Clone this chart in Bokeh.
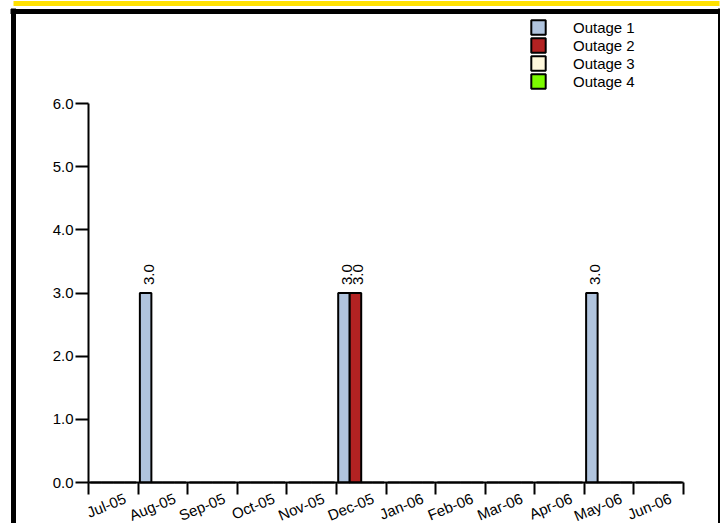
import math
import numpy as np
from bokeh.plotting import figure
from bokeh.models import (Range1d, LinearAxis, FixedTicker, PrintfTickFormatter,
                          Legend, LegendItem, LabelSet, ColumnDataSource)
from bokeh.core.properties import value
from bokeh.embed import file_html
from bokeh.resources import INLINE

months = ["Jul-05", "Aug-05", "Sep-05", "Oct-05", "Nov-05", "Dec-05",
          "Jan-06", "Feb-06", "Mar-06", "Apr-06", "May-06", "Jun-06"]
series_names = ["Outage 1", "Outage 2", "Outage 3", "Outage 4"]
outage1 = [0, 3, 0, 0, 0, 3, 0, 0, 0, 0, 3, 0]
outage2 = [0, 0, 0, 0, 0, 3, 0, 0, 0, 0, 0, 0]
outage3 = [0, 0, 0, 0, 0, 0, 0, 0, 0, 0, 0, 0]
outage4 = [0, 0, 0, 0, 0, 0, 0, 0, 0, 0, 0, 0]
colors = ["#B0C4DE", "#B22222", "#FFF8DC", "#7CFC00"]
y_ticks = [0, 1, 2, 3, 4, 5, 6]

FONT = "Liberation Sans"
W, H = 720, 523

# pixel layout: the frame is the whole canvas, the value axes sit inside it
AX_X0, AX_X1 = 88, 683      # x = 0 and x = 12
AX_Y0, AX_Y1 = 482, 103     # y = 0 and y = 6
NCAT = len(months)
YMAX = 6
ppx = (AX_X1 - AX_X0) / NCAT
ppy = (AX_Y0 - AX_Y1) / YMAX


def dx(px):
    return (px - AX_X0) / ppx


def dy(py):
    return (AX_Y0 - py) / ppy


p = figure(width=W, height=H, x_range=Range1d(dx(0), dx(W)), y_range=Range1d(dy(H), dy(0)),
           output_backend="svg", toolbar_location=None,
           x_axis_type=None, y_axis_type=None,
           min_border_left=0, min_border_right=0, min_border_top=0, min_border_bottom=0)
p.background_fill_color = "white"
p.border_fill_color = "white"
p.outline_line_color = None
p.xgrid.visible = False
p.ygrid.visible = False


def plain_axis(side, loc, bounds, color, width):
    ax = LinearAxis(ticker=FixedTicker(ticks=[]), fixed_location=loc, bounds=bounds)
    ax.axis_line_color = color
    ax.axis_line_width = width
    ax.axis_line_cap = "butt"
    ax.major_tick_line_color = None
    ax.minor_tick_line_color = None
    ax.major_label_text_font_size = "0px"
    p.add_layout(ax, side)


# outer box (left, right, top) and the yellow band above it
plain_axis("left", dx(12.5), (dy(H), dy(8)), "black", 5)
plain_axis("right", dx(719.5), (dy(H), dy(8)), "black", 5)
plain_axis("above", dy(10.5), (dx(10), dx(722)), "black", 5)
plain_axis("above", dy(2.5), (dx(13), dx(719)), "#FFE100", 5)

# y axis
yax = LinearAxis(ticker=FixedTicker(ticks=y_ticks), formatter=PrintfTickFormatter(format="%.1f"),
                 fixed_location=0, bounds=(0, YMAX))
yax.major_tick_out = 13
yax.major_tick_in = 0
yax.minor_tick_out = 0
yax.minor_tick_in = 0
yax.axis_line_width = 2
yax.major_tick_line_width = 2
yax.major_label_standoff = 2
yax.major_label_text_font = FONT
yax.major_label_text_font_size = "15px"
yax.major_label_text_color = "black"
p.add_layout(yax, "left")

# x axis: ticks at category boundaries
xt = LinearAxis(ticker=FixedTicker(ticks=list(range(NCAT + 1))), fixed_location=0, bounds=(0, NCAT))
xt.major_label_overrides = {i: "" for i in range(NCAT + 1)}
xt.major_label_text_font_size = "0px"
xt.major_label_standoff = 0
xt.major_tick_out = 12
xt.major_tick_in = 0
xt.axis_line_width = 2
xt.major_tick_line_width = 2
p.add_layout(xt, "below")

# x axis: month labels
label_pos = [i + 0.74 for i in range(NCAT)]
xl = LinearAxis(ticker=FixedTicker(ticks=label_pos), fixed_location=0)
xl.major_label_overrides = {pos: m for pos, m in zip(label_pos, months)}
xl.major_label_orientation = 0.39
xl.axis_line_color = None
xl.major_tick_line_color = None
xl.major_tick_out = 0
xl.major_tick_in = 0
xl.major_label_standoff = 15
xl.major_label_text_font = FONT
xl.major_label_text_font_size = "15px"
xl.major_label_text_color = "black"
p.add_layout(xl, "below")

# bars
centers = np.arange(NCAT) + 0.5
offsets = [-0.348, -0.116, 0.116, 0.348]
bw = 0.232
all_series = [outage1, outage2, outage3, outage4]
renderers = []
lab_x, lab_y, lab_t = [], [], []
for vals, off, col in zip(all_series, offsets, colors):
    xs = centers + off
    r = p.vbar(x=xs, top=vals, bottom=0, width=bw, fill_color=col, line_color="black", line_width=2)
    renderers.append(r)
    for xv, v in zip(xs, vals):
        if v > 0:
            lab_x.append(xv)
            lab_y.append(v)
            lab_t.append("%.1f" % v)

src = ColumnDataSource(dict(x=lab_x, y=lab_y, t=lab_t))
p.add_layout(LabelSet(x="x", y="y", text="t", source=src, angle=math.pi / 2,
                      text_align="left", text_baseline="middle", x_offset=3, y_offset=8,
                      text_font=value(FONT), text_font_size=value("15px"), text_color="black"))

# legend
legend = Legend(items=[LegendItem(label=n, renderers=[r]) for n, r in zip(series_names, renderers)],
                location=(529, 433), orientation="vertical")
legend.glyph_width = 18
legend.glyph_height = 18
legend.label_height = 18
legend.spacing = 0
legend.label_standoff = 26
legend.padding = 0
legend.margin = 0
legend.border_line_color = None
legend.background_fill_alpha = 0
legend.label_text_font = FONT
legend.label_text_font_size = "15px"
legend.label_text_color = "black"
p.add_layout(legend, "center")

open("out.html", "w").write(file_html(p, INLINE))
